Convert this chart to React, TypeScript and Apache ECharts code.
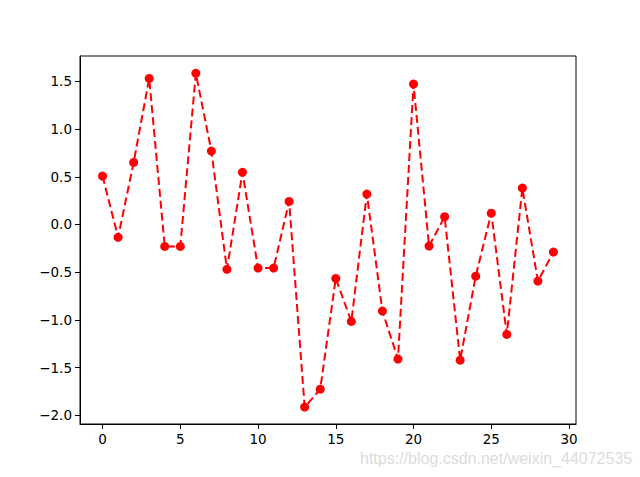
import React, { useEffect, useRef } from "react";
import * as echarts from "echarts";

const xValues: number[] = Array.from({ length: 30 }, (_, i) => i);
const yValues: number[] = [
  0.507, -0.135, 0.65, 1.53, -0.23, -0.23, 1.583, 0.769, -0.47, 0.546,
  -0.457, -0.457, 0.242, -1.913, -1.725, -0.565, -1.016, 0.319, -0.907, -1.41,
  1.471, -0.226, 0.081, -1.421, -0.541, 0.119, -1.152, 0.381, -0.593, -0.289,
];
const xTicks: number[] = [0, 5, 10, 15, 20, 25, 30];
const yTicks: number[] = [-2.0, -1.5, -1.0, -0.5, 0.0, 0.5, 1.0, 1.5];
const watermark = "https://blog.csdn.net/weixin_44072535";

const fmt = (v: number) => {
  const s = Math.abs(v).toFixed(1);
  return v < -1e-9 ? "\u2212" + s : s;
};

export default function App() {
  const ref = useRef<HTMLDivElement>(null);
  useEffect(() => {
    if (!ref.current) return;
    const chart = echarts.init(ref.current, undefined, { renderer: "svg" });
    const font = "DejaVu Sans";
    chart.setOption({
      animation: false,
      backgroundColor: "#ffffff",
      grid: {
        left: 80,
        top: 56,
        right: 64,
        bottom: 53,
        show: true,
        borderColor: "#000",
        borderWidth: 1,
        backgroundColor: "transparent",
      },
      xAxis: {
        type: "value",
        min: -1.45,
        max: 30.45,
        splitLine: { show: false },
        axisLine: { show: true, onZero: false, lineStyle: { color: "#000", width: 1 } },
        axisTick: {
          show: true,
          length: 5,
          inside: false,
          customValues: xTicks,
          lineStyle: { color: "#000", width: 1 },
        },
        axisLabel: {
          customValues: xTicks,
          color: "#000",
          fontFamily: font,
          fontSize: 13.5,
          margin: 8,
          formatter: (v: number) => String(v),
          showMinLabel: true,
          showMaxLabel: true,
        },
      },
      yAxis: {
        type: "value",
        min: -2.09,
        max: 1.765,
        splitLine: { show: false },
        axisLine: { show: true, onZero: false, lineStyle: { color: "#000", width: 1 } },
        axisTick: {
          show: true,
          length: 5,
          inside: false,
          customValues: yTicks,
          lineStyle: { color: "#000", width: 1 },
        },
        axisLabel: {
          customValues: yTicks,
          color: "#000",
          fontFamily: font,
          fontSize: 13.5,
          margin: 8,
          formatter: (v: number) => fmt(v),
        },
      },
      series: [
        {
          type: "line",
          data: xValues.map((x, i) => [x, yValues[i]]),
          symbol: "circle",
          symbolSize: 9,
          showAllSymbol: true,
          itemStyle: { color: "#ff0000" },
          lineStyle: { color: "#ff0000", width: 2, type: [8, 4] },
          emphasis: { disabled: true },
        },
      ],
      graphic: [
        {
          type: "text",
          left: 360,
          top: 450,
          style: {
            text: watermark,
            fill: "#dcdcdc",
            font: '16px "Liberation Sans", Arial, sans-serif',
          },
          silent: true,
        },
      ],
    });
    return () => chart.dispose();
  }, []);
  return <div ref={ref} style={{ width: 640, height: 477, position: "fixed", left: 0, top: 0 }} />;
}
